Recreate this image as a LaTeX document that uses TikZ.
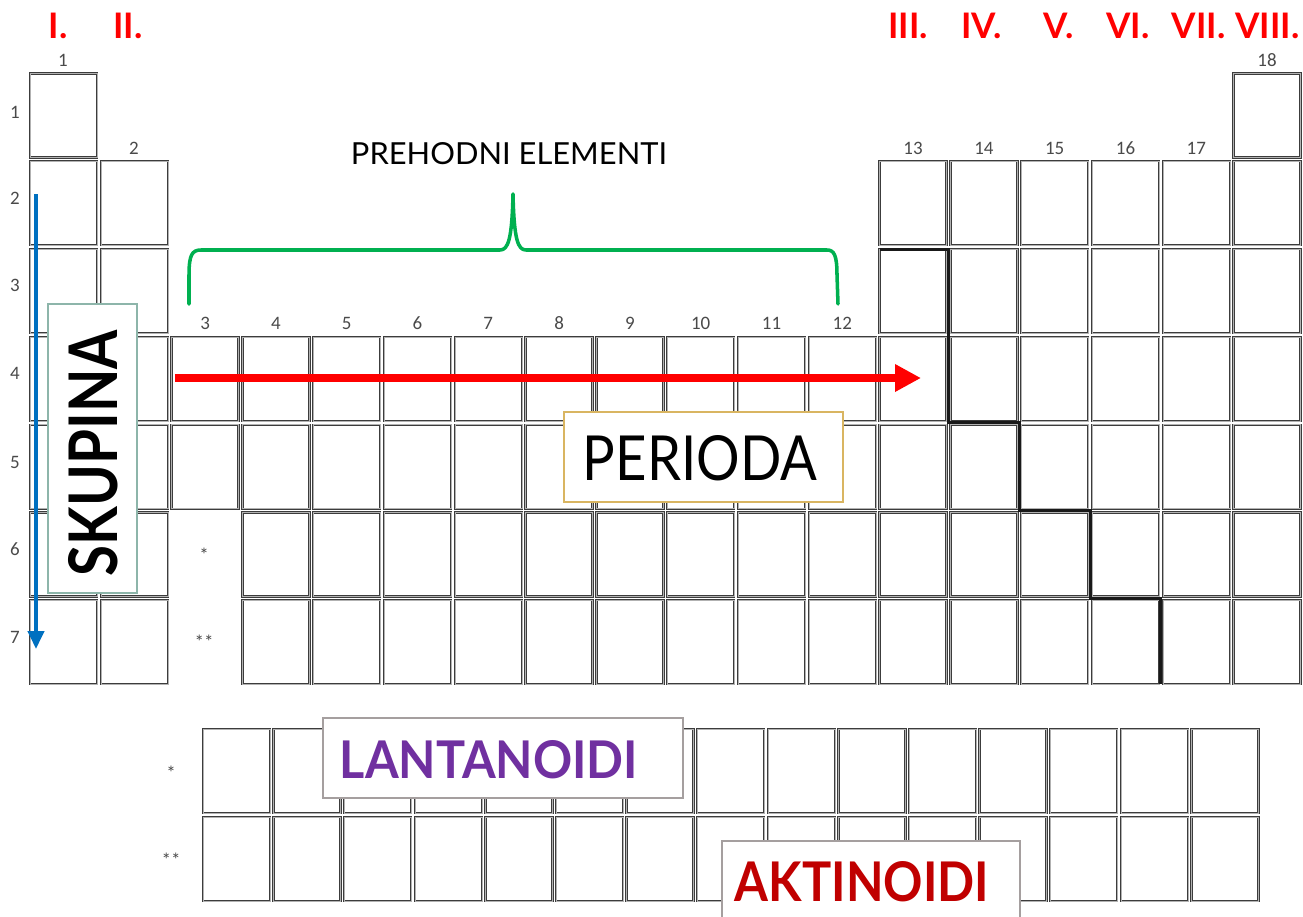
\documentclass[tikz,border=0pt]{standalone}
\usepackage{fontspec}
\setmainfont{Lato}
\newfontfamily\numfont{Carlito}
\usetikzlibrary{arrows.meta}
\newlength\px \setlength\px{0.05cm}
\definecolor{romred}{HTML}{FF0000}
\definecolor{cellline}{HTML}{3C3C3C}
\definecolor{numgray}{HTML}{4A4A4A}
\definecolor{bracegreen}{HTML}{00B050}
\definecolor{arrowblue}{HTML}{0070C0}
\definecolor{lanpurple}{HTML}{7030A0}
\definecolor{aktred}{HTML}{C00000}
\definecolor{goldline}{HTML}{D9B561}
\definecolor{tealline}{HTML}{8DB5AA}
\definecolor{grayline}{HTML}{A59F9F}
\begin{document}
\begin{tikzpicture}[x=0.05cm,y=-0.05cm,
  cell/.style={draw=cellline, line width=1.35pt, double=black!30, double distance=0.6pt,
    minimum width=67\px, minimum height=84\px, inner sep=0pt, outer sep=0pt, anchor=north west},
  roman/.style={text=romred, font=\fontsize{50}{50}\selectfont\bfseries, anchor=base, inner sep=0pt},
  num/.style={text=numgray, font=\numfont\fontsize{27}{27}\selectfont, anchor=base, inner sep=0pt},
  labelbox/.style={fill=white, line width=2pt, inner sep=0pt, outer sep=0pt},
  lbl/.style={anchor=base, inner sep=0pt},
  stair/.style={line width=4.3pt, draw=black!90},
  redarrow/.style={draw=red, line width=10pt, -{Triangle[length=1.3cm,width=1.3cm]}},
  bluearrow/.style={draw=arrowblue, line width=6pt, -{Triangle[length=0.9cm,width=0.8cm]}},
  brace/.style={draw=bracegreen, line width=5pt, line cap=round, line join=round}]
\clip (0,0) rectangle (1303,916);
\fill[white] (0,0) rectangle (1303,916);

% main table cells
\foreach \r/\cl in {1/{1,18},2/{1,2,13,14,15,16,17,18},3/{1,2,13,14,15,16,17,18},
  4/{1,2,3,4,5,6,7,8,9,10,11,12,13,14,15,16,17,18},5/{1,2,3,4,5,6,7,8,9,10,11,12,13,14,15,16,17,18},
  6/{1,2,4,5,6,7,8,9,10,11,12,13,14,15,16,17,18},7/{1,2,4,5,6,7,8,9,10,11,12,13,14,15,16,17,18}}{
  \foreach \c in \cl {
    \pgfmathsetmacro\xx{30+(\c-1)*70.8}
    \pgfmathsetmacro\yy{73.5+(\r-1)*87.8}
    \node[cell] (c-\r-\c) at (\xx,\yy) {};
  }
}
% lanthanides / actinides
\foreach \i in {1,...,15}{
  \pgfmathsetmacro\xx{203+(\i-1)*70.6}
  \node[cell] (la-\i) at (\xx,729) {};
  \node[cell] (ac-\i) at (\xx,817) {};
}

% group numbers
\node[num] (n1) at (63,66) {1};
\node[num] (n2) at (134,154) {2};
\foreach \c in {3,...,12}{
  \pgfmathsetmacro\xx{30+(\c-1)*70.8+33.5}
  \node[num] (n\c) at (\xx,329) {\c};
}
\foreach \c in {13,...,17}{
  \pgfmathsetmacro\xx{30+(\c-1)*70.8+33.5}
  \node[num] (n\c) at (\xx,154) {\c};
}
\node[num] (n18) at (1267,66) {18};
% period numbers
\foreach \r/\yy in {1/118,2/204,3/291,4/379,5/468,6/555,7/643}{
  \node[num] (p\r) at (15,\yy) {\r};
}
\node[num] (st1) at (204,561) {*};
\node[num] (st2) at (204,648) {**};
\node[num] (st3) at (171,779) {*};
\node[num] (st4) at (171,866) {**};

% roman group labels
\node[roman] (g1) at (58,38) {I.};
\node[roman] (g2) at (128,38) {II.};
\node[roman] (g3) at (908,38) {III.};
\node[roman] (g4) at (981.5,38) {IV.};
\node[roman] (g5) at (1058.5,38) {V.};
\node[roman] (g6) at (1128,38) {VI.};
\node[roman] (g7) at (1198.5,38) {VII.};
\node[roman] (g8) at (1267.5,38) {VIII.};

% metal / nonmetal staircase
\coordinate (s0) at (879.6,249.1);
\coordinate (s1) at (948.5,249.1);
\coordinate (s2) at (948.5,422.8);
\coordinate (s3) at (1019.3,422.8);
\coordinate (s4) at (1019.3,510.6);
\coordinate (s5) at (1090.1,510.6);
\coordinate (s6) at (1090.1,598.4);
\coordinate (s7) at (1160.9,598.4);
\coordinate (s8) at (1160.9,684.3);
\draw[stair] (s0) -- (s1) -- (s2) -- (s3) -- (s4) -- (s5) -- (s6) -- (s7) -- (s8);

% transition elements brace and label
\node[lbl] (prehodni) at (509,164) {\resizebox{316\px}{22\px}{PREHODNI ELEMENTI}};
\draw[brace] (189,304) -- (189,275) .. controls (189,255) and (192,250) .. (201,250)
  -- (500,250) .. controls (508,250) and (512,240) .. (513,194)
  .. controls (514,240) and (518,250) .. (526,250)
  -- (827,250) .. controls (834,250) and (837,255) .. (837,275) -- (838,304);

% period arrow
\coordinate (ra0) at (175,378);
\coordinate (ra1) at (921,378);
\draw[redarrow] (ra0) -- (ra1);

% group arrow
\coordinate (ba0) at (36,194);
\coordinate (ba1) at (36,649);
\draw[bluearrow] (ba0) -- (ba1);

% label boxes
\node[labelbox, draw=tealline, minimum width=89\px, minimum height=289\px] (skbox) at (92.5,448.5) {};
\node[lbl, rotate=90] (skupina) at (117,453) {\resizebox{246\px}{49\px}{\bfseries SKUPINA}};

\node[labelbox, draw=goldline, minimum width=279\px, minimum height=90\px] (perbox) at (703.5,457) {};
\node[lbl] (perioda) at (700,480) {\resizebox{234\px}{45\px}{PERIODA}};

\node[labelbox, draw=grayline, minimum width=360\px, minimum height=80\px] (lanbox) at (503,758) {};
\node[lbl, text=lanpurple] (lantanoidi) at (489,778) {\resizebox{298\px}{38\px}{\bfseries LANTANOIDI}};

\node[labelbox, draw=grayline, minimum width=298\px, minimum height=100\px] (akbox) at (871,891) {};
\node[lbl, text=aktred] (aktinoidi) at (862,901) {\resizebox{254\px}{40\px}{\bfseries AKTINOIDI}};
\end{tikzpicture}
\end{document}
